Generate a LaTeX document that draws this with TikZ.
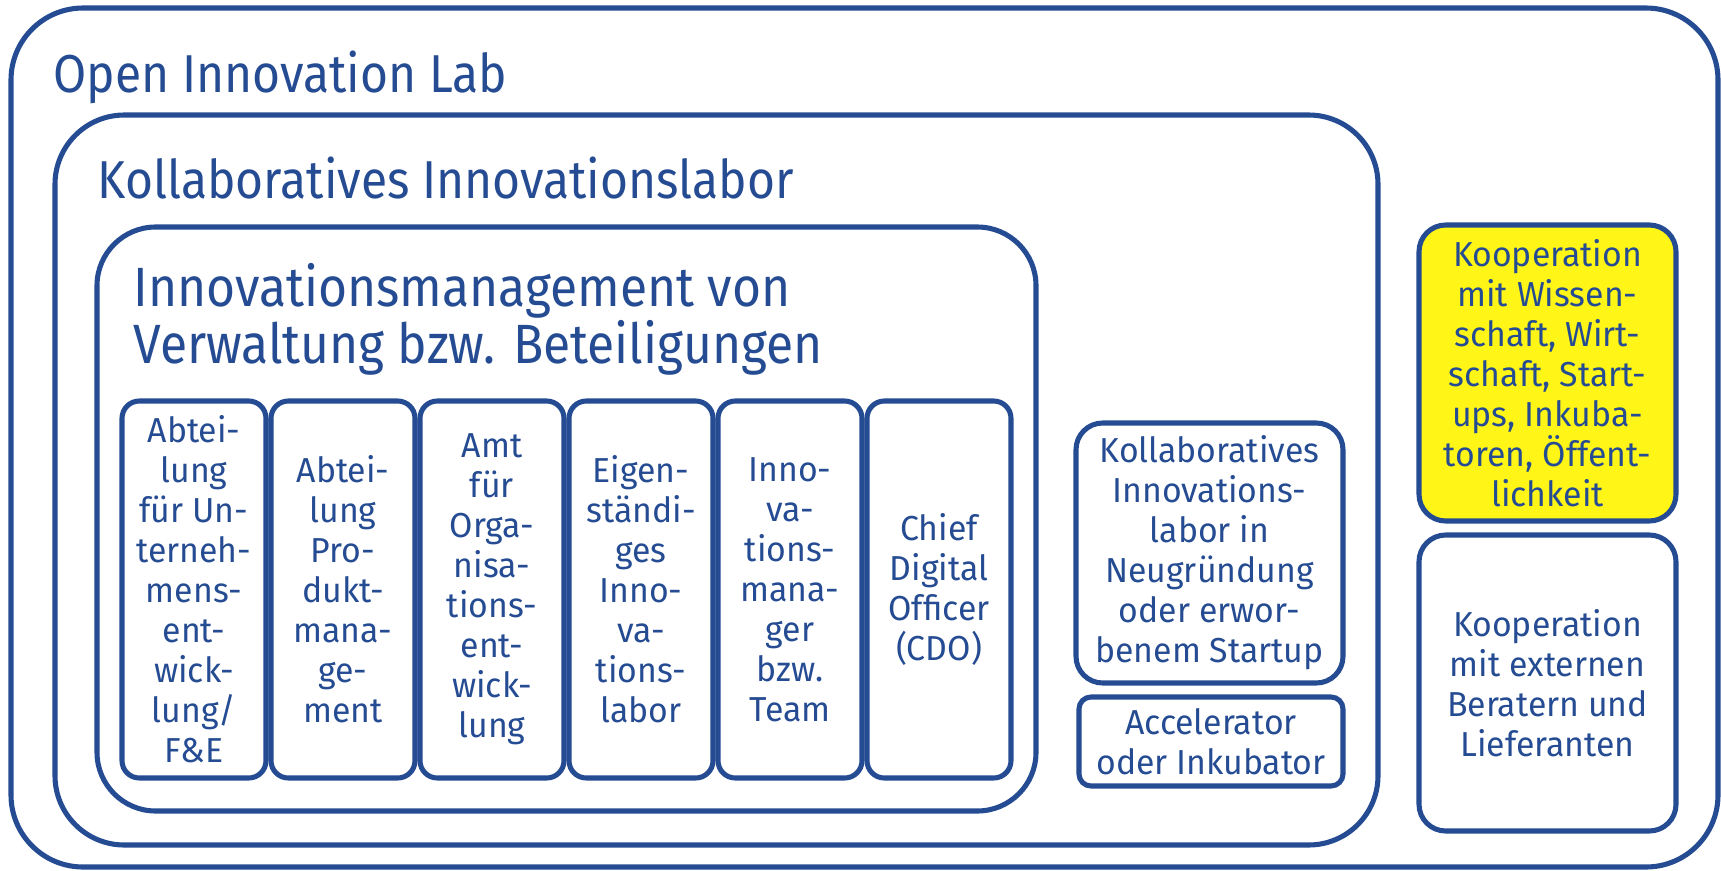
\documentclass[tikz,border=0pt]{standalone}
\usepackage{fontspec}
\setmainfont{Fira Sans}[FakeStretch=0.975]
\newfontfamily\headfont{Fira Sans}[FakeStretch=0.90]
\definecolor{labblue}{RGB}{37,76,146}
\definecolor{labyellow}{RGB}{255,246,24}

\tikzset{every picture/.style={line width=3.8pt}}
\tikzset{
  frame/.style={draw=labblue, line width=3.8pt},
  unit/.style={draw=labblue, line width=3.8pt, text=labblue, align=center,
    inner sep=0pt, font=\fontsize{26}{30}\selectfont},
  column/.style={unit, rounded corners=13pt, minimum width=108pt, minimum height=282.75pt},
  heading/.style={text=labblue, anchor=base west, inner sep=0pt, align=left,
    font=\headfont\fontsize{40}{42.75}\selectfont}
}

\begin{document}
\begin{tikzpicture}[x=0.75pt,y=0.75pt,yscale=-1,xscale=1]
\useasboundingbox (0,0) rectangle (1721,871);

\draw [frame, rounded corners=54pt] (11,8) rectangle (1718,867) ;
\draw [frame, rounded corners=52pt] (55,115) rectangle (1378,845) ;
\draw [frame, rounded corners=44pt] (97,227) rectangle (1036,811) ;

\draw (51,92) node [heading] (labTitle) {Open Innovation Lab};
\draw (95,198) node [heading] (kollabTitle) {Kollaboratives Innovationslabor};
\draw (131,363) node [heading, font=\headfont\fontsize{41.5}{42.75}\selectfont] (verwTitle) {Innovationsmanagement von\\Verwaltung bzw. Beteiligungen};

\node [column] (abteilungUE) at (194,589.5) {Abtei-\\lung\\für Un-\\terneh-\\mens-\\ent-\\wick-\\lung/\\F\&E};
\node [column] (abteilungPM) at (343,589.5) {Abtei-\\lung\\Pro-\\dukt-\\mana-\\ge-\\ment};
\node [column] (amtOE) at (492,589.5) {Amt\\für\\Orga-\\nisa-\\tions-\\ent-\\wick-\\lung};
\node [column] (eigenLabor) at (641,589.5) {Eigen-\\ständi-\\ges\\Inno-\\va-\\tions-\\labor};
\node [column] (innoManager) at (790,589.5) {Inno-\\va-\\tions-\\mana-\\ger\\bzw.\\Team};
\node [column] (cdo) at (939,589.5) {Chief\\Digital\\Officer\\(CDO)};

\node [unit, rounded corners=20pt, minimum width=200.25pt, minimum height=195pt] (kollabStartup) at (1209.5,553) {Kollaboratives\\Innovations-\\labor in\\Neugründung\\oder erwor-\\benem Startup};
\node [unit, rounded corners=9pt, minimum width=198pt, minimum height=66.75pt] (accelerator) at (1211,741.5) {Accelerator\\oder Inkubator};

\node [unit, fill=labyellow, rounded corners=20pt, minimum width=192.75pt, minimum height=222pt] (koopWissen) at (1547.5,373) {Kooperation\\mit Wissen-\\schaft, Wirt-\\schaft, Start-\\ups, Inkuba-\\toren, Öffent-\\lichkeit};
\node [unit, rounded corners=20pt, minimum width=192.75pt, minimum height=222pt] (koopBerater) at (1547.5,683) {Kooperation\\mit externen\\Beratern und\\Lieferanten};

\end{tikzpicture}
\end{document}
